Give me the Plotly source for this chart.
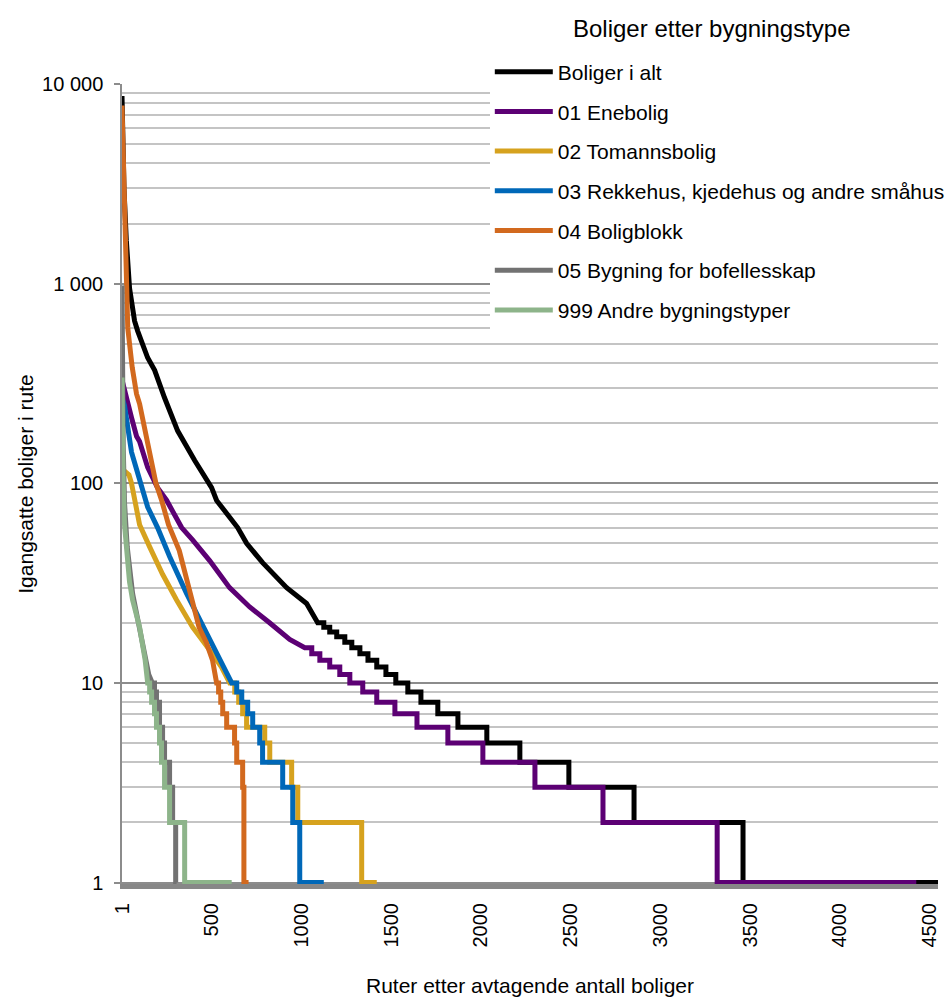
import plotly.graph_objects as go

# ---------------- data ----------------
series_names = [
    "Boliger i alt",
    "01 Enebolig",
    "02 Tomannsbolig",
    "03 Rekkehus, kjedehus og andre småhus",
    "04 Boligblokk",
    "05 Bygning for bofellesskap",
    "999 Andre bygningstyper",
]
series_colors = ["#000000", "#5c0074", "#d6a21e", "#0068b8", "#d2691e", "#727272", "#8db48a"]
legend_title = "Boliger etter bygningstype"

# Boliger i alt: smooth head (rank, value) + integer step tail
alt_rank = [1, 5, 12, 25, 43, 71, 88, 144, 183, 238, 311, 406, 500, 528, 645, 695, 784, 918, 1029]
alt_val = [8700, 5000, 3000, 1650, 950, 650, 580, 425, 368, 268, 183, 130, 95, 82, 60, 50, 40, 30, 25]
alt_step_rank = [1091, 1125, 1158, 1197, 1242, 1281, 1326, 1371, 1420, 1471, 1526, 1593, 1666,
                 1760, 1872, 2033, 2217, 2490, 2853, 3460]
alt_step_val = [20, 19, 18, 17, 16, 15, 14, 13, 12, 11, 10, 9, 8, 7, 6, 5, 4, 3, 2, 1]
alt_last = 4546

# 01 Enebolig
ene_rank = [1, 15, 54, 82, 99, 144, 199, 250, 333, 394, 489, 600, 712, 823, 935]
ene_val = [330, 290, 213, 172, 162, 120, 95, 82, 60, 52, 41, 30, 24, 20, 16.5]
ene_step_rank = [1019, 1058, 1103, 1158, 1214, 1270, 1342, 1420, 1521, 1644, 1816, 2011, 2301, 2680, 3316]
ene_step_val = [15, 14, 13, 12, 11, 10, 9, 8, 7, 6, 5, 4, 3, 2, 1]
ene_last = 4425

# 02 Tomannsbolig
tom_rank = [1, 40, 54, 71, 99, 155, 227, 305, 394, 489, 555]
tom_val = [118, 110, 100, 82, 62, 48, 35, 26, 19, 14.6, 12]
tom_step_rank = [601, 629, 651, 673, 695, 796, 824, 946, 980, 1336]
tom_step_val = [10, 9, 8, 7, 6, 5, 4, 3, 2, 1]
tom_last = 1420

# 03 Rekkehus, kjedehus og andre småhus
rek_rank = [1, 15, 54, 99, 144, 199, 266, 361, 450, 545, 580]
rek_val = [270, 245, 143, 103, 76, 60, 43, 28, 19.5, 13.5, 11.5]
rek_step_rank = [612, 640, 668, 701, 729, 768, 784, 896, 952, 991]
rek_step_val = [10, 9, 8, 7, 6, 5, 4, 3, 2, 1]
rek_last = 1125

# 04 Boligblokk
blokk_rank = [1, 3, 10, 25, 33, 58, 82, 99, 140, 190, 222, 260, 320, 377, 430, 470, 505]
blokk_val = [7800, 6500, 4100, 950, 600, 380, 280, 250, 170, 100, 82, 62, 46, 29, 19, 16, 13]
blokk_step_rank = [528, 539, 551, 562, 584, 628, 640, 673, 680]
blokk_step_val = [10, 9, 8, 7, 6, 5, 4, 3, 1]
blokk_last = 706

# 05 Bygning for bofellesskap
bof_rank = [1, 2, 4, 8, 15, 30, 60, 100, 150]
bof_val = [980, 600, 300, 150, 80, 48, 28, 18, 11]
bof_step_rank = [170, 182, 193, 210, 227, 238, 266, 283, 300]
bof_step_val = [10, 9, 8, 6, 5, 4, 3, 2, 1]
bof_last = 305

# 999 Andre bygningstyper
andre_rank = [1, 3, 7, 15, 30, 43, 60, 99, 130]
andre_val = [339, 200, 110, 62, 40, 32, 26, 19, 13]
andre_step_rank = [144, 155, 166, 182, 193, 210, 221, 238, 266, 350]
andre_step_val = [10, 9, 8, 7, 6, 5, 4, 3, 2, 1]
andre_last = 612

x_tick_vals = [1, 500, 1000, 1500, 2000, 2500, 3000, 3500, 4000, 4500]
x_range_max = 4546


def build(head_r, head_v, step_r, step_v, last):
    xs, ys = list(head_r), list(head_v)
    ends = step_r[1:] + [last]
    for s, e, v in zip(step_r, ends, step_v):
        xs += [s, e]
        ys += [v, v]
    return xs, ys


series_data = [
    build(alt_rank, alt_val, alt_step_rank, alt_step_val, alt_last),
    build(ene_rank, ene_val, ene_step_rank, ene_step_val, ene_last),
    build(tom_rank, tom_val, tom_step_rank, tom_step_val, tom_last),
    build(rek_rank, rek_val, rek_step_rank, rek_step_val, rek_last),
    build(blokk_rank, blokk_val, blokk_step_rank, blokk_step_val, blokk_last),
    build(bof_rank, bof_val, bof_step_rank, bof_step_val, bof_last),
    build(andre_rank, andre_val, andre_step_rank, andre_step_val, andre_last),
]

fig = go.Figure()
for name, color, (xs, ys) in zip(series_names, series_colors, series_data):
    fig.add_trace(go.Scatter(
        x=xs, y=ys, mode="lines", name=name, legendgroup=name,
        line=dict(color=color, width=5),
    ))

fig.update_layout(
    width=952, height=997,
    margin=dict(l=122, r=14, t=84, b=112.5, pad=0, autoexpand=False),
    paper_bgcolor="white", plot_bgcolor="white",
    separators=", ",
    font=dict(family="Liberation Sans, Arial, sans-serif", size=20, color="black"),
    showlegend=True,
    legend=dict(
        font=dict(size=21),
        xref="container", yref="container",
        x=0.5145, xanchor="left", y=0.9483, yanchor="top",
        bgcolor="white", borderwidth=0,
        itemwidth=58, tracegroupgap=9.4, traceorder="grouped",
    ),
    annotations=[dict(
        text=legend_title, xref="paper", yref="paper",
        x=(712 - 122) / 816, y=1 + (84 - 28) / 800.5,
        xanchor="center", yanchor="middle", showarrow=False,
        font=dict(size=24),
    )],
    xaxis=dict(
        range=[1, x_range_max], tickmode="array", tickvals=x_tick_vals,
        tickangle=-90, showgrid=False, zeroline=False, automargin=False,
        showline=True, linecolor="#878787", linewidth=5, ticks="",
        ticklabelstandoff=6,
        layer="below traces",
        title=dict(text="Ruter etter avtagende antall boliger", font=dict(size=21), standoff=34),
    ),
    yaxis=dict(
        type="log", range=[-0.0075, 4], dtick=1, exponentformat="none",
        separatethousands=True, automargin=False,
        ticks="outside", ticklen=6, tickwidth=1.5, tickcolor="#8c8c8c",
        ticklabelstandoff=7,
        showline=True, linecolor="#8c8c8c", linewidth=1.5,
        showgrid=True, gridcolor="#8c8c8c", gridwidth=1.5,
        minor=dict(dtick="D1", showgrid=True, gridcolor="#c4c4c4", gridwidth=1.5, ticks=""),
        zeroline=False, layer="below traces",
        title=dict(text="Igangsatte boliger i rute", font=dict(size=21), standoff=3),
    ),
)

fig.write_html(
    "out.html",
    config={"displayModeBar": False},
    post_script="document.body.style.margin='0';document.body.style.overflow='hidden';",
)
